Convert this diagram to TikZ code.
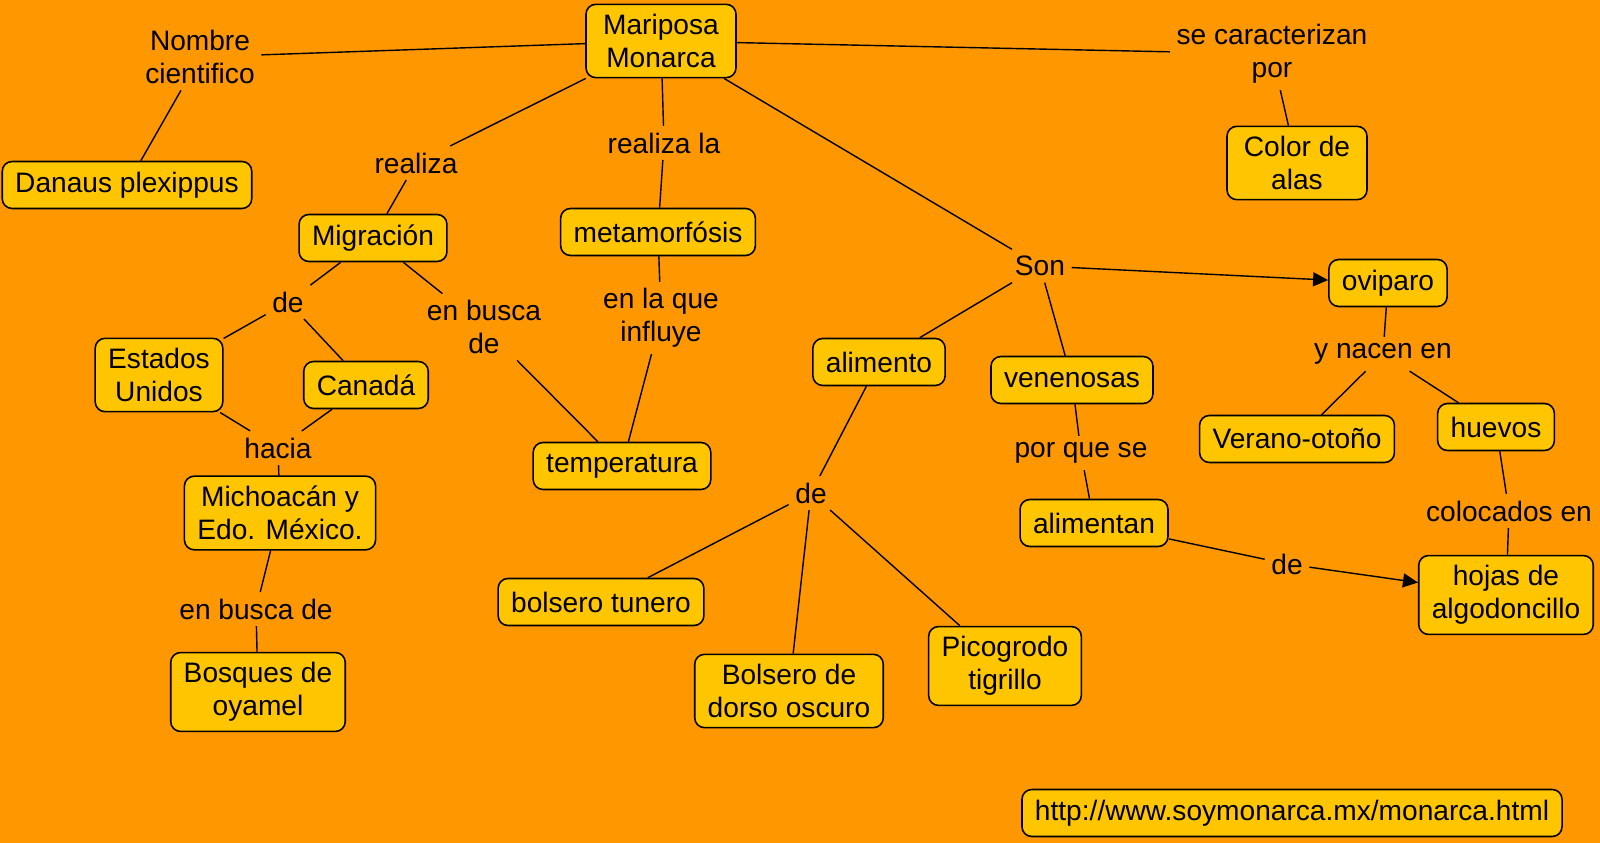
\documentclass[tikz,border=0pt]{standalone}
\usepackage{fontspec}
\setmainfont{Liberation Sans}
\usetikzlibrary{arrows.meta}
\definecolor{MonarchOrange}{HTML}{FF9800}
\definecolor{WingGold}{HTML}{FFC600}

\begin{document}
\begin{tikzpicture}[
      x=0.1mm,y=-0.1mm,
      concept/.style={draw=black,line width=0.45pt,rounded corners=2.8pt,
                      fill=WingGold,align=center,inner xsep=1.3mm,inner ysep=1mm,
                      minimum height=4.7mm,font=\fontsize{8}{9.3}\selectfont},
      link/.style={align=center,inner sep=0.6mm,font=\fontsize{8}{9.3}\selectfont},
      con/.style={line width=0.4pt},
      arr/.style={-{Triangle[length=1.5mm,width=1.4mm]},line width=0.4pt},
    ]
    \fill[MonarchOrange] (0,0) rectangle (1600,843);

    \node[concept,minimum width=15mm] (monarca) at (661,41) {Mariposa\\Monarca};
    \node[link]    (nombre)    at (200,57)   {Nombre\\cientifico};
    \node[concept] (danaus)    at (127,185)  {Danaus plexippus};
    \node[link]    (caract)    at (1272,54)  {se caracterizan\\por};
    \node[concept,minimum width=14mm] (color) at (1297,163) {Color de\\alas};
    \node[link]    (realiza)   at (416,163)  {realiza};
    \node[concept] (migracion) at (373,238)  {Migración};
    \node[link]    (realizala) at (664,143)  {realiza la};
    \node[concept] (metamorf)  at (658,232)  {metamorfósis};
    \node[link]    (son)       at (1040,266) {Son};
    \node[concept] (oviparo)   at (1388,283) {oviparo};
    \node[link]    (demig)     at (288,302)  {de};
    \node[link]    (buscamig)  at (484,327)  {en busca\\de};
    \node[link]    (influye)   at (661,318)  {en la que\\influye};
    \node[concept] (eu)        at (159,375)  {Estados\\Unidos};
    \node[concept] (canada)    at (366,385)  {Canadá};
    \node[concept] (alimento)  at (879,362)  {alimento};
    \node[concept] (venenosas) at (1072,380) {venenosas};
    \node[link]    (nacen)     at (1383,354) {y nacen en};
    \node[concept] (verano)    at (1297,439) {Verano-otoño};
    \node[concept] (huevos)    at (1496,427) {huevos};
    \node[link]    (hacia)     at (278,448)  {hacia};
    \node[concept] (temp)      at (622,466)  {temperatura};
    \node[link]    (porque)    at (1081,453) {por que se};
    \node[concept] (michoacan) at (280,513)  {Michoacán y\\Edo. México.};
    \node[link]    (dealim)    at (811,493)  {de};
    \node[concept] (alimentan) at (1094,523) {alimentan};
    \node[link]    (colocados) at (1509,511) {colocados en};
    \node[link]    (dehojas)   at (1287,564) {de};
    \node[concept] (hojas)     at (1506,595) {hojas de\\algodoncillo};
    \node[link]    (buscabosq) at (256,609)  {en busca de};
    \node[concept] (tunero)    at (601,602)  {bolsero tunero};
    \node[concept] (bosques)   at (258,692)  {Bosques de\\oyamel};
    \node[concept] (dorso)     at (789,691)  {Bolsero de\\dorso oscuro};
    \node[concept] (picogrodo) at (1005,666) {Picogrodo\\tigrillo};
    \node[concept] (url)       at (1292,813) {http://www.soymonarca.mx/monarca.html};

    \draw[con] (monarca) -- (nombre);
    \draw[con] (nombre) -- (danaus);
    \draw[con] (monarca) -- (caract);
    \draw[con] (caract) -- (color);
    \draw[con] (monarca) -- (realiza);
    \draw[con] (realiza) -- (migracion);
    \draw[con] (monarca) -- (realizala);
    \draw[con] (realizala) -- (metamorf);
    \draw[con] (monarca) -- (son);
    \draw[arr] (son) -- (oviparo);
    \draw[con] (son) -- (alimento);
    \draw[con] (son) -- (venenosas);
    \draw[con] (migracion) -- (demig);
    \draw[con] (demig) -- (eu);
    \draw[con] (demig) -- (canada);
    \draw[con] (migracion) -- (buscamig);
    \draw[con] (buscamig) -- (temp);
    \draw[con] (metamorf) -- (influye);
    \draw[con] (influye) -- (temp);
    \draw[con] (eu) -- (hacia);
    \draw[con] (canada) -- (hacia);
    \draw[con] (hacia) -- (michoacan);
    \draw[con] (michoacan) -- (buscabosq);
    \draw[con] (buscabosq) -- (bosques);
    \draw[con] (alimento) -- (dealim);
    \draw[con] (dealim) -- (tunero);
    \draw[con] (dealim) -- (dorso);
    \draw[con] (dealim) -- (picogrodo);
    \draw[con] (venenosas) -- (porque);
    \draw[con] (porque) -- (alimentan);
    \draw[con] (alimentan) -- (dehojas);
    \draw[arr] (dehojas) -- (hojas);
    \draw[con] (oviparo) -- (nacen);
    \draw[con] (nacen) -- (verano);
    \draw[con] (nacen) -- (huevos);
    \draw[con] (huevos) -- (colocados);
    \draw[con] (colocados) -- (hojas);
  \end{tikzpicture}
\end{document}
